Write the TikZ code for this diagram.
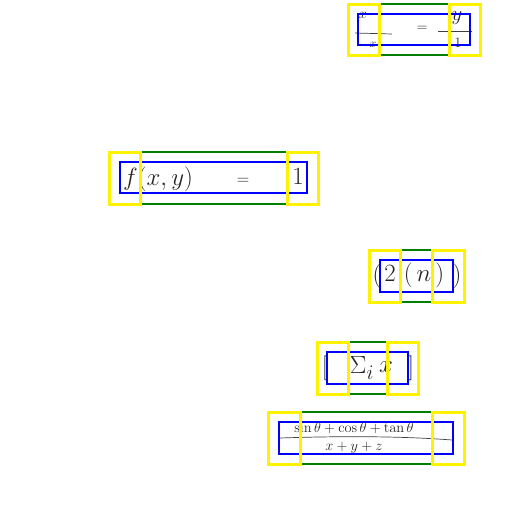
\documentclass[tikz,border=0pt]{standalone}
\tikzset{
    yellowbox/.style={draw=yellow, line width=3pt},
    greenbox/.style={draw=green!50!black, line width=2.8pt},
    bluebox/.style={draw=blue, line width=2.8pt},
    ink/.style={text=black!85, inner sep=0pt, anchor=center},
    inkline/.style={draw=black!75, line width=0.7pt}
}
\begin{document}
\begin{tikzpicture}[x=1pt, y=-1pt]
    \useasboundingbox (0,0) rectangle (512,512);
    % handwriting
    \node[ink, font=\fontsize{15}{18}\selectfont] (xtop) at (363,15) {$x$};
    \node[ink, font=\fontsize{13}{16}\selectfont] (xbot) at (373,45) {$x$};
    \node[ink, font=\fontsize{14}{16}\selectfont] (eqa) at (422,29) {$=$};
    \node[ink, font=\fontsize{20}{24}\selectfont] (ytop) at (457,18) {$y$};
    \node[ink, font=\fontsize{15}{18}\selectfont] (onea) at (458,43) {$1$};
    \coordinate (la) at (355,33);
    \coordinate (lb) at (392,34);
    \coordinate (lc) at (438,31);
    \coordinate (ld) at (472,31);
    \draw[inkline] (la) -- (lb);
    \draw[inkline] (lc) -- (ld);
    \node[ink, font=\fontsize{28}{32}\selectfont] (fxy) at (158,179) {$f(x,y)$};
    \node[ink, font=\fontsize{16}{20}\selectfont] (eqb) at (243,181) {$=$};
    \node[ink, font=\fontsize{28}{32}\selectfont] (oneb) at (298,176) {$1$};
    \node[ink, font=\fontsize{35}{40}\selectfont] (parl) at (377,276) {$($};
    \node[ink, font=\fontsize{24}{28}\selectfont] (two) at (390,273) {$2$};
    \node[ink, font=\fontsize{24}{28}\selectfont] (narg) at (424,275) {$(\,n\,)$};
    \node[ink, font=\fontsize{35}{40}\selectfont] (parr) at (457,276) {$)$};
    \node[ink, font=\fontsize{40}{44}\selectfont] (brl) at (325,368) {$[$};
    \node[ink, font=\fontsize{28}{32}\selectfont] (sumi) at (362,368) {$\Sigma_{i}$};
    \node[ink, font=\fontsize{24}{28}\selectfont] (varx) at (386,367) {$x$};
    \node[ink, font=\fontsize{40}{44}\selectfont] (brr) at (411,368) {$]$};
    \node[ink, font=\fontsize{14.5}{18}\selectfont] (trig) at (354,428) {$\sin\theta+\cos\theta+\tan\theta$};
    \node[ink, font=\fontsize{14}{16}\selectfont] (xyz) at (354,448) {$x+y+z$};
    \coordinate (le) at (280,438);
    \coordinate (lf) at (452,440);
    \draw[inkline] (le) .. controls (340,436) and (400,436) .. (lf);
    % first group
    \draw[greenbox] (379,4) rectangle (449,55);
    \draw[bluebox] (358,14) rectangle (470,45);
    \draw[yellowbox] (348,4) rectangle (379,55);
    \draw[yellowbox] (449,4) rectangle (480,55);
    % second group
    \draw[greenbox] (140,152) rectangle (287,204);
    \draw[bluebox] (120,162) rectangle (307,193);
    \draw[yellowbox] (109,152) rectangle (140,204);
    \draw[yellowbox] (287,152) rectangle (318,204);
    % third group
    \draw[greenbox] (400,250) rectangle (432,302);
    \draw[bluebox] (380,260) rectangle (453,292);
    \draw[yellowbox] (369,250) rectangle (400,302);
    \draw[yellowbox] (432,250) rectangle (464,302);
    % fourth group
    \draw[greenbox] (348,342) rectangle (387,394);
    \draw[bluebox] (327,352) rectangle (408,384);
    \draw[yellowbox] (317,342) rectangle (348,394);
    \draw[yellowbox] (387,342) rectangle (418,394);
    % fifth group
    \draw[greenbox] (300,412) rectangle (432,464);
    \draw[bluebox] (279,422) rectangle (453,454);
    \draw[yellowbox] (268,412) rectangle (300,464);
    \draw[yellowbox] (432,412) rectangle (464,464);
\end{tikzpicture}
\end{document}
